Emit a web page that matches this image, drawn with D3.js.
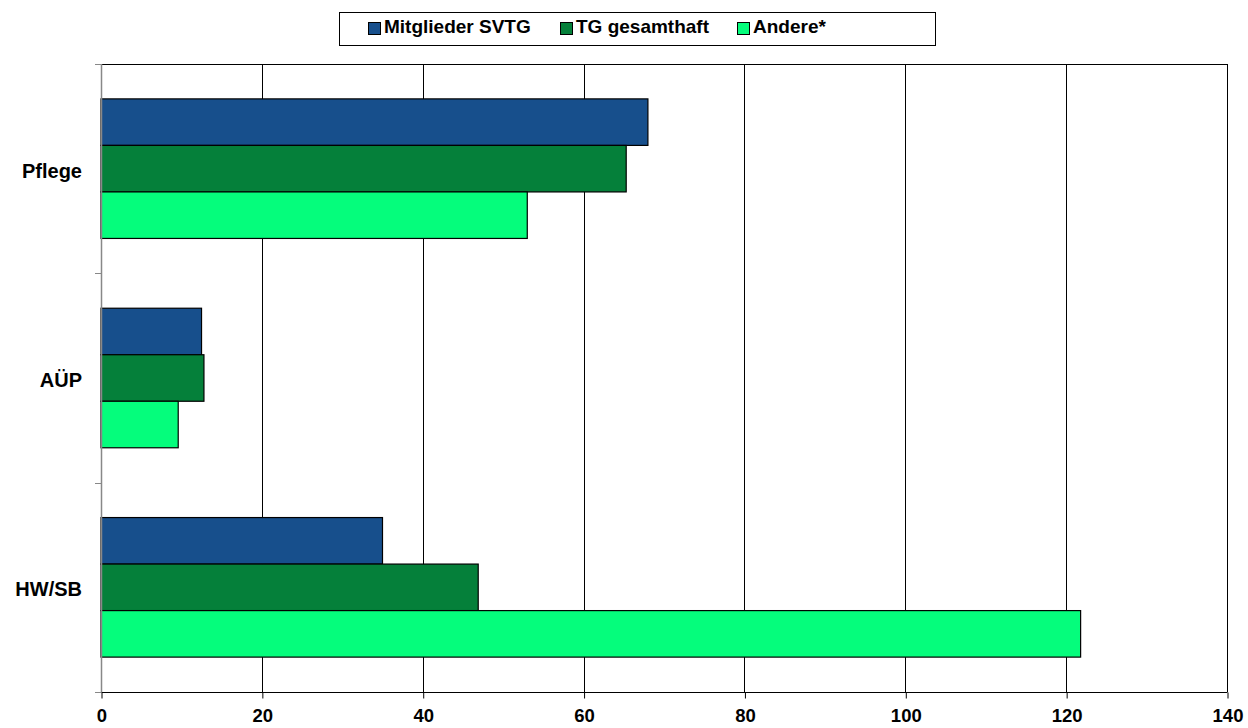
<!DOCTYPE html>
<html>
<head>
  <meta charset="utf-8">
  <script src="https://d3js.org/d3.v7.min.js"></script>
  <style>
    body{ margin:0; background:#fff; }
    text{
      font-family: "Liberation Sans", Arial, sans-serif;
      font-weight: 700;
      fill: #000;
    }
    .xAxis .tick text{ font-size: 18.5px; }
    text.catLabel{ font-size: 20px; }
    .legend text{ font-size: 19px; }
  </style>
</head>
<body>
<script>

  var categories = ['Pflege', 'AÜP', 'HW/SB'];
  var seriesNames = ['Mitglieder SVTG', 'TG gesamthaft', 'Andere*'];
  var seriesColours = ['#174f8c', '#05803a', '#05fd7c'];
  // one array per series, same order as categories
  var mitglieder = [68, 12.5, 35];
  var tgGesamt = [65.3, 12.8, 46.9];
  var andere = [53, 9.6, 121.8];
  var xTicks = [0, 20, 40, 60, 80, 100, 120, 140];

  var width = 1248, height = 728;
  const margin = {top: 64, right: 21, bottom: 36, left: 101};

  var series = [mitglieder, tgGesamt, andere];
  var rows = [];
  categories.forEach((c, i) => {
    series.forEach((s, j) => rows.push({cat: c, key: seriesNames[j], value: s[i], colour: seriesColours[j]}));
  });

  var svg = d3.select('body').append('svg')
    .attr('width', width)
    .attr('height', height);

  let x = d3.scaleLinear()
    .domain([0, 140])
    .range([margin.left, width - margin.right]);

  let y = d3.scaleBand()
    .domain(categories)
    .range([margin.top, height - margin.bottom])
    .paddingInner(0)
    .paddingOuter(0);

  // Excel style gap width 150%: 3 bars + 1.5 bar gap per band
  let barH = y.bandwidth() / 4.5;
  let y1 = d3.scaleBand()
    .domain(seriesNames)
    .range([barH * 0.75, barH * 3.75]);

  // gridlines
  svg.append('g')
    .selectAll('line')
    .data(xTicks.filter(d => d > 0))
    .enter().append('line')
    .attr('x1', d => Math.round(x(d)) + 0.5)
    .attr('x2', d => Math.round(x(d)) + 0.5)
    .attr('y1', margin.top)
    .attr('y2', height - margin.bottom)
    .attr('stroke', '#000')
    .attr('stroke-width', 1);

  // top border of plot
  svg.append('line')
    .attr('x1', x(0)).attr('x2', x(140))
    .attr('y1', margin.top + 0.5).attr('y2', margin.top + 0.5)
    .attr('stroke', '#000');

  svg.selectAll('rect.bar')
    .data(rows)
    .enter().append('rect')
    .attr('class', 'bar')
    .attr('x', x(0))
    .attr('y', d => y(d.cat) + y1(d.key))
    .attr('width', d => x(d.value) - x(0))
    .attr('height', y1.bandwidth())
    .style('fill', d => d.colour)
    .style('stroke', '#000')
    .style('stroke-width', 1.2);

  // x axis
  let xAxis = d3.axisBottom(x)
    .tickValues(xTicks)
    .tickSize(6)
    .tickPadding(10)
    .tickFormat(d3.format('d'));

  let gx = svg.append('g')
    .attr('class', 'axis xAxis')
    .attr('transform', `translate(0.5, ${height - margin.bottom + 0.5})`)
    .call(xAxis);
  gx.select('.domain').attr('stroke', '#000').attr('d', `M${x(0)},0H${x(140)}`);
  gx.selectAll('.tick line').attr('stroke', '#000');
  gx.selectAll('.tick text').attr('dy', '0.72em');

  // y axis: category ticks at band edges
  let yEdges = categories.map(c => y(c)).concat([height - margin.bottom]);
  let gy = svg.append('g').attr('class', 'yAxis');
  gy.append('line')
    .attr('x1', x(0) + 0.5).attr('x2', x(0) + 0.5)
    .attr('y1', margin.top).attr('y2', height - margin.bottom)
    .attr('stroke', '#888').attr('stroke-width', 1.5);
  gy.selectAll('line.tk')
    .data(yEdges)
    .enter().append('line')
    .attr('class', 'tk')
    .attr('x1', x(0) - 6).attr('x2', x(0))
    .attr('y1', d => Math.round(d) + 0.5).attr('y2', d => Math.round(d) + 0.5)
    .attr('stroke', '#888');
  gy.selectAll('text')
    .data(categories)
    .enter().append('text')
    .attr('class', 'catLabel')
    .attr('x', 82)
    .attr('y', d => y(d) + y.bandwidth() / 2 + 2)
    .attr('dy', '0.35em')
    .style('text-anchor', 'end')
    .text(d => d);

  // legend
  let legend = svg.append('g').attr('class', 'legend');
  legend.append('rect')
    .attr('x', 339.5).attr('y', 12.5)
    .attr('width', 596).attr('height', 33)
    .attr('fill', '#fff').attr('stroke', '#000');
  let legendX = [368, 560, 737];
  let items = legend.selectAll('g.item')
    .data(seriesNames)
    .enter().append('g')
    .attr('class', 'item')
    .attr('transform', (d, i) => `translate(${legendX[i]}, 22)`);
  items.append('rect')
    .attr('x', 0.5).attr('y', 0.5)
    .attr('width', 12).attr('height', 12)
    .attr('fill', (d, i) => seriesColours[i])
    .attr('stroke', '#000');
  items.append('text')
    .attr('x', 16)
    .attr('y', 11)
    .text(d => d);

</script>
</body>
</html>
